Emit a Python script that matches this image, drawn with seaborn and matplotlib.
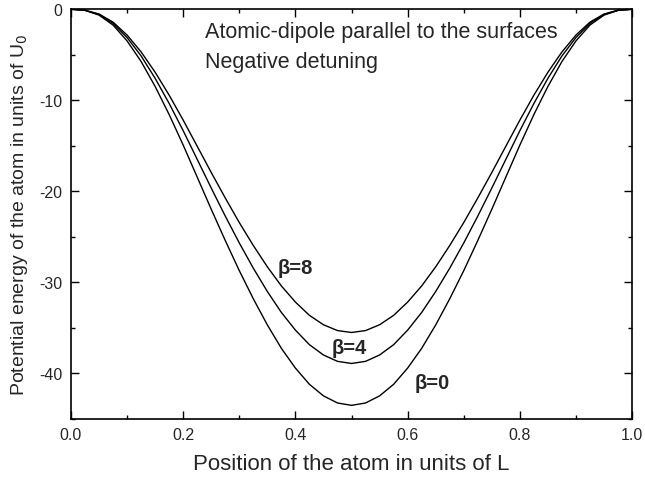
import numpy as np
import pandas as pd
import matplotlib
matplotlib.use("Agg")
import matplotlib.pyplot as plt
import seaborn as sns
from matplotlib.ticker import MultipleLocator

# position of the atom (units of L)
x_pos = [0.0, 0.025, 0.05, 0.075, 0.1, 0.125, 0.15, 0.175, 0.2, 0.225, 0.25,
         0.275, 0.3, 0.325, 0.35, 0.375, 0.4, 0.425, 0.45, 0.475, 0.5,
         0.525, 0.55, 0.575, 0.6, 0.625, 0.65, 0.675, 0.7, 0.725, 0.75,
         0.775, 0.8, 0.825, 0.85, 0.875, 0.9, 0.925, 0.95, 0.975, 1.0]

# potential energy (units of U0)
u_beta0 = [0.0, -0.13, -0.65, -1.74, -3.48, -5.74, -8.48, -11.57, -14.92, -18.44, -21.97,
           -25.40, -28.71, -31.80, -34.67, -37.24, -39.41, -41.19, -42.46, -43.24, -43.5,
           -43.24, -42.46, -41.19, -39.41, -37.24, -34.67, -31.80, -28.71, -25.40, -21.97,
           -18.44, -14.92, -11.57, -8.48, -5.74, -3.48, -1.74, -0.65, -0.13, 0.0]
u_beta4 = [0.0, -0.12, -0.58, -1.56, -3.11, -5.13, -7.59, -10.35, -13.34, -16.49, -19.64,
           -22.72, -25.67, -28.44, -31.00, -33.30, -35.24, -36.84, -37.97, -38.67, -38.9,
           -38.67, -37.97, -36.84, -35.24, -33.30, -31.00, -28.44, -25.67, -22.72, -19.64,
           -16.49, -13.34, -10.35, -7.59, -5.13, -3.11, -1.56, -0.58, -0.12, 0.0]
u_beta8 = [0.0, -0.11, -0.53, -1.42, -2.84, -4.69, -6.92, -9.44, -12.18, -15.05, -17.93,
           -20.73, -23.43, -25.95, -28.29, -30.39, -32.16, -33.62, -34.65, -35.29, -35.5,
           -35.29, -34.65, -33.62, -32.16, -30.39, -28.29, -25.95, -23.43, -20.73, -17.93,
           -15.05, -12.18, -9.44, -6.92, -4.69, -2.84, -1.42, -0.53, -0.11, 0.0]

df = pd.concat([
    pd.DataFrame({"x": x_pos, "U": u_beta0, "beta": "0"}),
    pd.DataFrame({"x": x_pos, "U": u_beta4, "beta": "4"}),
    pd.DataFrame({"x": x_pos, "U": u_beta8, "beta": "8"}),
])

sns.set_style("white")
plt.rcParams["font.family"] = ["Liberation Sans", "DejaVu Sans"]
plt.rcParams["axes.unicode_minus"] = False

fig = plt.figure(figsize=(6.45, 4.85), dpi=100)
ax = fig.add_axes([0.110, 0.134, 0.870, 0.845])

sns.lineplot(data=df, x="x", y="U", units="beta", estimator=None,
             color="black", linewidth=1.0, ax=ax, legend=False)

ax.set_xlim(0, 1.0)
ax.set_ylim(-45, 0)
ax.xaxis.set_major_locator(MultipleLocator(0.2))
ax.xaxis.set_minor_locator(MultipleLocator(0.1))
ax.yaxis.set_major_locator(MultipleLocator(10))
ax.yaxis.set_minor_locator(MultipleLocator(5))
ax.xaxis.set_major_formatter(matplotlib.ticker.FormatStrFormatter("%.1f"))
ax.tick_params(which="both", direction="in", top=True, right=True,
               bottom=True, left=True, color="black", width=1.0)
ax.tick_params(which="major", length=6, labelsize=11.5, pad=6)
ax.tick_params(which="minor", length=3)
for s in ax.spines.values():
    s.set_color("black")
    s.set_linewidth(1.2)

ax.set_xlabel("Position of the atom in units of L", fontsize=16, labelpad=8)
ax.set_ylabel("Potential energy of the atom in units of U$_0$", fontsize=14, labelpad=7)

ax.text(0.239, -2.5, "Atomic-dipole parallel to the surfaces", fontsize=15.5, va="center")
ax.text(0.239, -5.7, "Negative detuning", fontsize=15.5, va="center")
ax.text(0.369, -28.4, "β=8", fontsize=14.5, va="center", fontweight="bold")
ax.text(0.465, -37.1, "β=4", fontsize=14.5, va="center", fontweight="bold")
ax.text(0.613, -41.0, "β=0", fontsize=14.5, va="center", fontweight="bold")

fig.savefig("out.png", dpi=100)
